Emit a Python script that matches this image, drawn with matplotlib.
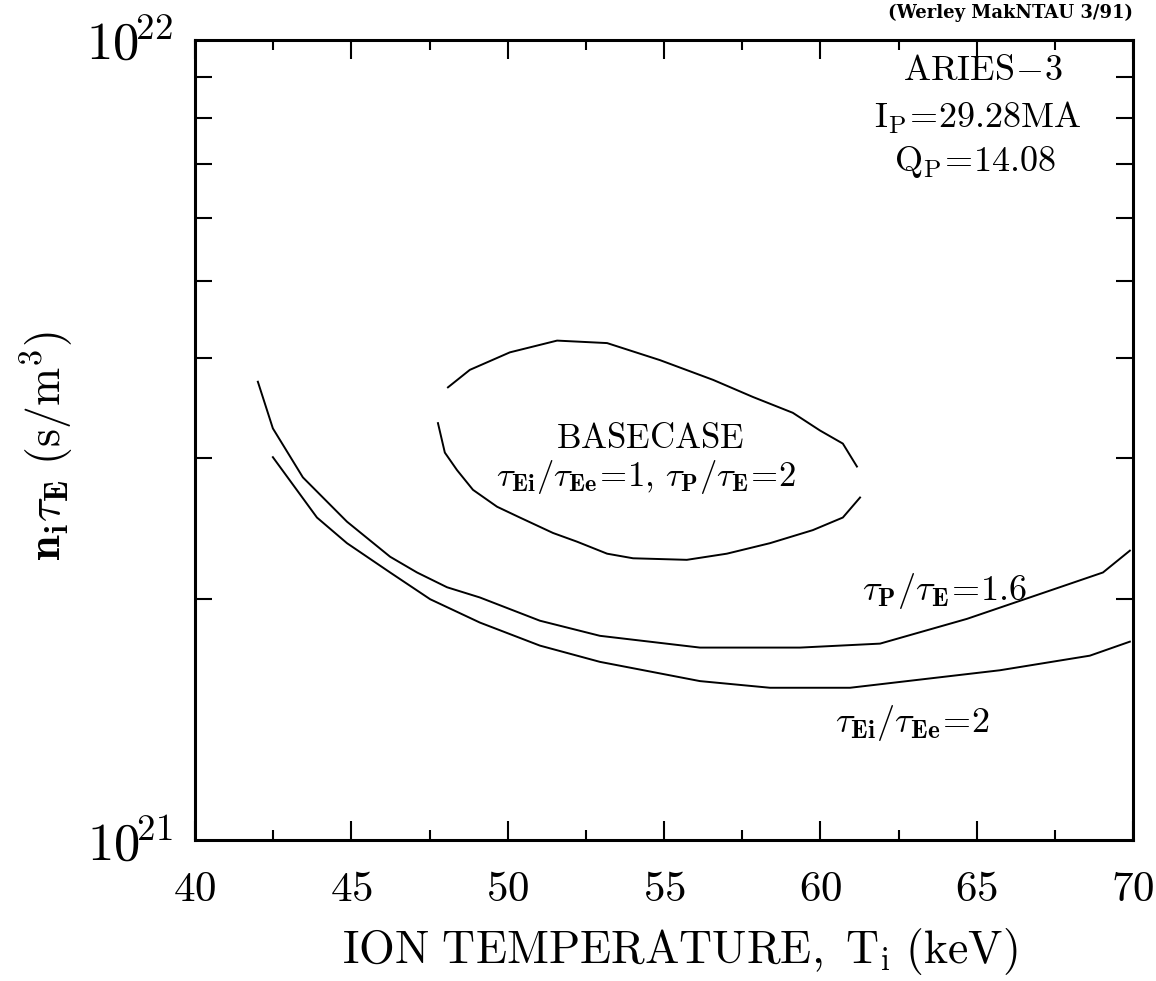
import matplotlib
matplotlib.use('Agg')
import matplotlib.pyplot as plt
from matplotlib.ticker import FixedLocator, LogLocator, NullFormatter
import numpy as np

plt.rcParams['mathtext.fontset'] = 'cm'
plt.rcParams['font.family'] = ['DejaVu Serif']

# BASECASE contour (tau_Ei/tau_Ee=1, tau_P/tau_E=2), drawn in two pieces
base_up_T = [48.09, 48.79, 50.07, 51.58, 53.18, 54.87, 56.57, 57.84, 59.12, 59.99, 60.72, 61.17]
base_up_nt = [3.68e21, 3.87e21, 4.07e21, 4.21e21, 4.18e21, 3.98e21, 3.76e21, 3.58e21,
              3.42e21, 3.25e21, 3.13e21, 2.93e21]
base_lo_T = [47.77, 47.99, 48.38, 48.89, 49.66, 50.39, 51.45, 52.22, 53.18, 54.01, 55.73,
             57.01, 58.39, 59.76, 60.72, 61.27]
base_lo_nt = [3.32e21, 3.05e21, 2.90e21, 2.74e21, 2.61e21, 2.53e21, 2.42e21, 2.36e21,
              2.28e21, 2.25e21, 2.24e21, 2.28e21, 2.35e21, 2.44e21, 2.53e21, 2.68e21]

# tau_P/tau_E = 1.6
tp16_T = [42.01, 42.49, 43.45, 44.86, 46.24, 47.10, 48.06, 49.11, 51.03, 52.95, 56.15,
          58.07, 59.35, 61.91, 64.69, 67.34, 69.04, 69.90]
tp16_nt = [3.74e21, 3.27e21, 2.84e21, 2.50e21, 2.26e21, 2.16e21, 2.07e21, 2.01e21, 1.88e21,
           1.80e21, 1.74e21, 1.74e21, 1.74e21, 1.76e21, 1.89e21, 2.05e21, 2.16e21, 2.30e21]

# tau_Ei/tau_Ee = 2
tei2_T = [42.49, 43.90, 44.86, 46.24, 47.52, 49.11, 51.03, 52.95, 56.15, 58.39, 60.95,
          65.74, 68.62, 69.90]
tei2_nt = [3.01e21, 2.53e21, 2.35e21, 2.16e21, 2.00e21, 1.87e21, 1.75e21, 1.67e21, 1.58e21,
           1.55e21, 1.55e21, 1.63e21, 1.70e21, 1.77e21]

x_ticks = [40, 45, 50, 55, 60, 65, 70]
y_ticks = [1e21, 1e22]
y_ticklabels = [r'$\mathbf{10}^{\!\mathbf{21}}$', r'$\mathbf{10}^{\!\mathbf{22}}$']

fig = plt.figure(figsize=(11.56, 9.81), dpi=100)
ax = fig.add_axes([0.1687, 0.1437, 0.8114, 0.8155])
ax.set_yscale('log')

lw = 1.4
ax.plot(base_up_T, base_up_nt, color='black', lw=lw)
ax.plot(base_lo_T, base_lo_nt, color='black', lw=lw)
ax.plot(tp16_T, tp16_nt, color='black', lw=lw)
ax.plot(tei2_T, tei2_nt, color='black', lw=lw)

ax.set_xlim(40, 70)
ax.set_ylim(1e21, 1e22)

ax.set_xticks(x_ticks)
ax.set_xticklabels([f'${t}$' for t in x_ticks], fontsize=31)
ax.set_xticks(np.arange(42.5, 70, 5), minor=True)
ax.yaxis.set_major_locator(FixedLocator(y_ticks))
ax.set_yticklabels(y_ticklabels, fontsize=38)
ax.yaxis.set_minor_locator(LogLocator(base=10, subs=np.arange(2, 10)))
ax.yaxis.set_minor_formatter(NullFormatter())

ax.tick_params(which='both', direction='in', top=True, right=True, width=1.5)
ax.tick_params(axis='x', which='major', length=14, pad=20)
ax.tick_params(axis='x', which='minor', length=7)
ax.tick_params(axis='y', which='major', length=0, pad=16)
ax.tick_params(axis='y', which='minor', length=12)
for s in ax.spines.values():
    s.set_linewidth(2.2)

eq = r'\!=\!'
# labels
ax.text(54.55, 3.18e21, r'$\mathrm{BASECASE}$', fontsize=25, ha='center', va='center')
ax.text(54.42, 2.84e21,
        r'$\tau_{\mathbf{Ei}}/\tau_{\mathbf{Ee}}' + eq + r'1,\,\tau_{\mathbf{P}}/\tau_{\mathbf{E}}' + eq + r'2$',
        fontsize=25, ha='center', va='center')
ax.text(63.98, 2.05e21, r'$\tau_{\mathbf{P}}/\tau_{\mathbf{E}}' + eq + r'1.6$',
        fontsize=26, ha='center', va='center')
ax.text(62.93, 1.40e21, r'$\tau_{\mathbf{Ei}}/\tau_{\mathbf{Ee}}' + eq + r'2$',
        fontsize=26, ha='center', va='center')

ax.text(0.840, 0.9625, r'$\mathrm{ARIES}\!-\!3$', transform=ax.transAxes,
        fontsize=26, ha='center', va='center')
ax.text(0.835, 0.9025, r'$\mathrm{I_P}' + eq + r'\mathrm{29.28MA}$', transform=ax.transAxes,
        fontsize=26, ha='center', va='center')
ax.text(0.832, 0.8475, r'$\mathrm{Q_P}' + eq + r'\mathrm{14.08}$', transform=ax.transAxes,
        fontsize=26, ha='center', va='center')

fig.text(0.980, 0.987, '(Werley MakNTAU 3/91)', fontsize=13, fontweight='bold',
         ha='right', va='center')

fig.text(0.588, 0.030, r'$\mathrm{ION\ TEMPERATURE,\ T_i\ (keV)}$', fontsize=33,
         ha='center', va='center')
fig.text(0.041, 0.546, r'$\mathbf{n_i}\tau_{\mathbf{E}}\ \mathrm{(s/m^3)}$', fontsize=33,
         rotation=90, ha='center', va='center')

fig.savefig('out.png', dpi=100)
